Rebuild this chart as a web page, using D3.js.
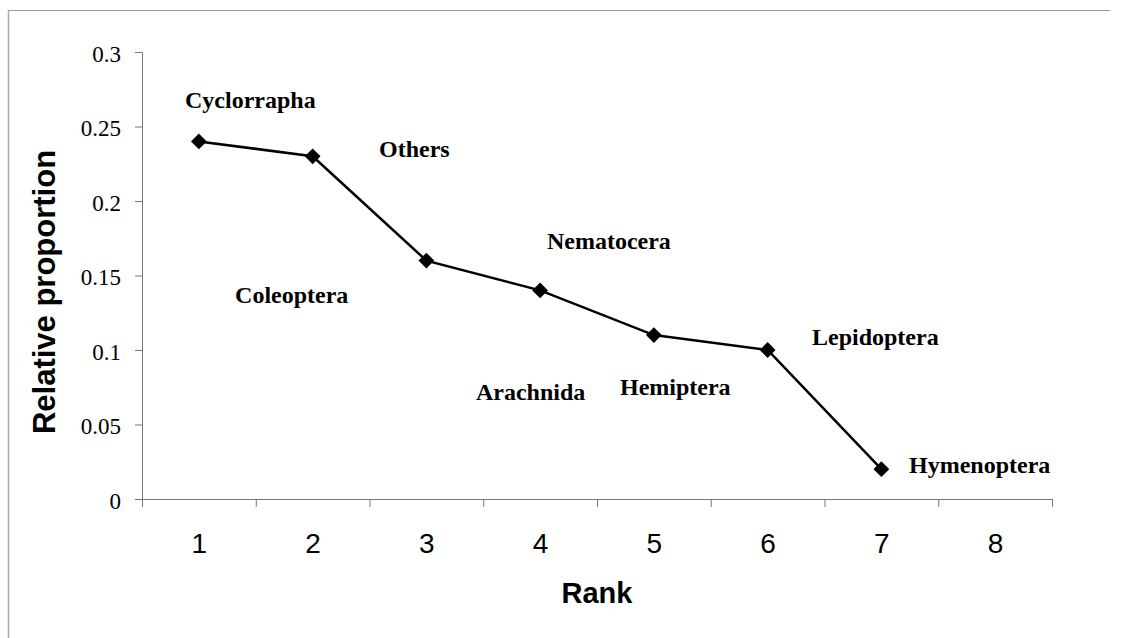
<!DOCTYPE html>
<html>
<head>
<meta charset="utf-8">
<script src="https://cdn.jsdelivr.net/npm/d3@7"></script>
<style>
  body { margin: 0; background: #fff; }
  svg { display: block; }
</style>
</head>
<body>
<svg id="chart" width="1122" height="638"></svg>
<script>
// data
const ranks = [1, 2, 3, 4, 5, 6, 7];
const proportions = [0.24, 0.23, 0.16, 0.14, 0.11, 0.1, 0.02];
const rankLabels = [1, 2, 3, 4, 5, 6, 7, 8];
const yTicks = [0, 0.05, 0.1, 0.15, 0.2, 0.25, 0.3];

// free-floating group names, placed in data units (rank, proportion)
const groupNames = ['Cyclorrapha', 'Others', 'Nematocera', 'Coleoptera', 'Lepidoptera', 'Arachnida', 'Hemiptera', 'Hymenoptera'];
const groupRank = [0.878, 2.584, 4.06, 1.318, 6.39, 3.436, 4.702, 7.243];
const groupValue = [0.2624, 0.2295, 0.1678, 0.1315, 0.1034, 0.0664, 0.0698, 0.0174];

const svg = d3.select('#chart');

const plotLeft = 142, plotRight = 1052, plotTop = 52, plotBottom = 499;

const x = d3.scaleLinear().domain([0.5, 8.5]).range([plotLeft, plotRight]);
const y = d3.scaleLinear().domain([0, 0.3]).range([plotBottom, plotTop]);

// frame (only left and top edges are visible in the scan)
svg.append('line')
	.attr('x1', 8.5).attr('x2', 8.5)
	.attr('y1', 10).attr('y2', 638)
	.attr('stroke', '#aaa').attr('stroke-width', 1.5);
svg.append('line')
	.attr('x1', 8).attr('x2', 1110)
	.attr('y1', 10.5).attr('y2', 10.5)
	.attr('stroke', '#999').attr('stroke-width', 1);

// y axis
const yAxis = svg.append('g')
	.attr('transform', `translate(${plotLeft},0)`)
	.call(d3.axisLeft(y).tickValues(yTicks).tickSize(7).tickPadding(14).tickSizeOuter(0).tickFormat(d => String(d)));
yAxis.select('.domain').attr('stroke', '#777');
yAxis.selectAll('.tick line').attr('stroke', '#777');
yAxis.selectAll('text')
	.attr('font-family', '"Liberation Serif", "Times New Roman", serif')
	.attr('font-size', 23)
	.attr('fill', '#000')
	.attr('dy', '0.4em');

// x axis: tick marks on the category edges
const edges = d3.range(0.5, 8.6, 1);
const xAxis = svg.append('g')
	.attr('transform', `translate(0,${plotBottom})`)
	.call(d3.axisBottom(x).tickValues(edges).tickSize(8).tickSizeOuter(0).tickFormat(''));
xAxis.select('.domain').attr('stroke', '#777');
xAxis.selectAll('.tick line').attr('stroke', '#777');

// x labels centered in each category
const xLabels = svg.append('g')
	.attr('transform', `translate(0,${plotBottom})`)
	.call(d3.axisBottom(x).tickValues(rankLabels).tickSize(0).tickPadding(34).tickFormat(d => String(d)));
xLabels.select('.domain').remove();
xLabels.selectAll('text')
	.attr('font-family', '"Liberation Sans", Arial, sans-serif')
	.attr('font-size', 28)
	.attr('fill', '#000');

// axis titles
svg.append('text')
	.attr('x', (plotLeft + plotRight) / 2)
	.attr('y', 603)
	.attr('text-anchor', 'middle')
	.attr('font-family', '"Liberation Sans", Arial, sans-serif')
	.attr('font-weight', 'bold')
	.attr('font-size', 29)
	.text('Rank');

svg.append('text')
	.attr('transform', 'translate(55,292) rotate(-90)')
	.attr('text-anchor', 'middle')
	.attr('font-family', '"Liberation Sans", Arial, sans-serif')
	.attr('font-weight', 'bold')
	.attr('font-size', 31)
	.text('Relative proportion');

// series line
const points = ranks.map((r, i) => [r, proportions[i]]);
svg.append('path')
	.datum(points)
	.attr('fill', 'none')
	.attr('stroke', '#000')
	.attr('stroke-width', 2.5)
	.attr('d', d3.line().x(d => x(d[0])).y(d => y(d[1])));

// diamond markers
const diamond = d3.symbol().type(d3.symbolSquare).size(125);
svg.selectAll('.marker')
	.data(points)
	.join('path')
	.attr('class', 'marker')
	.attr('d', diamond)
	.attr('fill', '#000')
	.attr('transform', d => `translate(${x(d[0])},${y(d[1])}) rotate(45)`);

// group names
svg.selectAll('.group-name')
	.data(groupNames)
	.join('text')
	.attr('class', 'group-name')
	.attr('x', (d, i) => x(groupRank[i]))
	.attr('y', (d, i) => y(groupValue[i]))
	.attr('font-family', '"Liberation Serif", "Times New Roman", serif')
	.attr('font-weight', 'bold')
	.attr('font-size', 24)
	.attr('fill', '#000')
	.text(d => d);
</script>
</body>
</html>
